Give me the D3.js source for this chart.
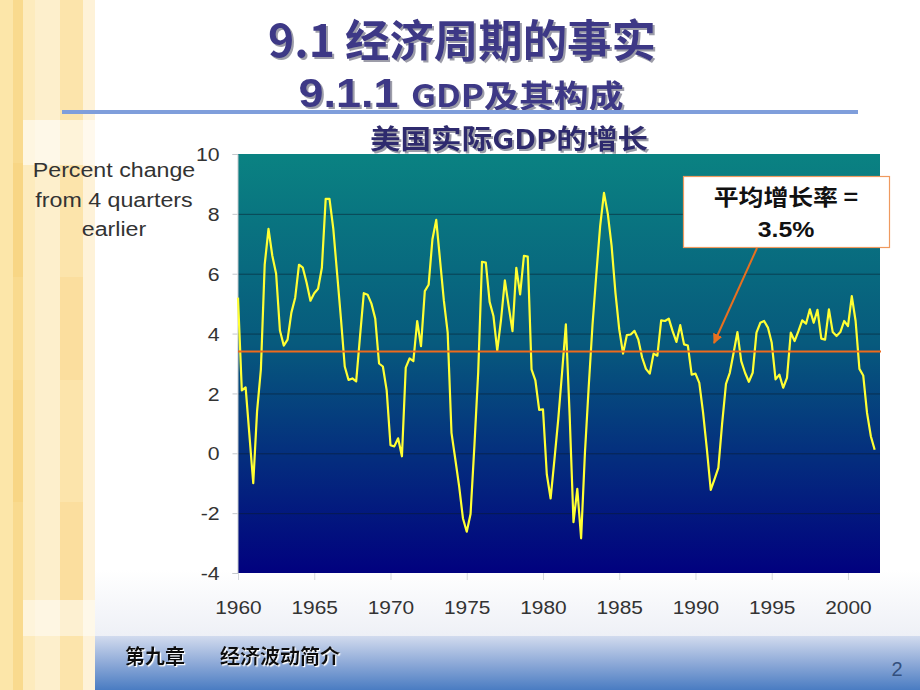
<!DOCTYPE html>
<html><head><meta charset="utf-8">
<script src="https://cdn.jsdelivr.net/npm/d3@7"></script>
<style>html,body{margin:0;padding:0;background:#fff;overflow:hidden}</style>
</head><body>
<svg id="c" width="920" height="690"></svg>
<script>
// ---------------- data ----------------
const startYear = 1960; // first quarter of series: 1960Q1, quarterly to 2001Q4
const gdpGrowth = [
 5.2, 2.1, 2.2, 0.6, -1.0, 1.4, 2.8, 6.3, 7.5, 6.6,
 6.0, 4.1, 3.6, 3.8, 4.7, 5.2, 6.3, 6.2, 5.7, 5.1,
 5.35, 5.5, 6.2, 8.5, 8.5, 7.5, 6.0, 4.5, 2.9, 2.45,
 2.5, 2.4, 3.9, 5.35, 5.3, 5.0, 4.5, 3.0, 2.9, 2.1,
 0.27, 0.23, 0.5, -0.1, 2.86, 3.17, 3.08, 4.42, 3.58, 5.42,
 5.63, 7.15, 7.8, 6.45, 5.1, 4.03, 0.68, -0.2, -1.1, -2.17,
 -2.62, -2.03, 0.23, 2.69, 6.4, 6.37, 5.06, 4.59, 3.43, 4.47,
 5.78, 4.92, 4.08, 6.2, 5.31, 6.6, 6.57, 2.8, 2.44, 1.45,
 1.47, -0.7, -1.51, -0.21, 1.13, 2.69, 4.31, 1.24, -2.3, -1.19,
 -2.84, 0.01, 2.24, 4.31, 6.0, 7.6, 8.7, 8.0, 6.93, 5.37,
 4.14, 3.33, 3.95, 3.97, 4.09, 3.8, 3.2, 2.82, 2.66, 3.33,
 3.26, 4.44, 4.42, 4.5, 4.08, 3.72, 4.28, 3.64, 3.6, 2.63,
 2.66, 2.35, 1.35, 0.12, -1.22, -0.86, -0.49, 1.01, 2.32, 2.69,
 3.36, 4.05, 3.08, 2.69, 2.39, 2.69, 4.03, 4.36, 4.42, 4.2,
 3.69, 2.47, 2.63, 2.19, 2.52, 4.03, 3.75, 4.08, 4.44, 4.33,
 4.81, 4.36, 4.79, 3.83, 3.8, 4.81, 4.05, 3.92, 4.05, 4.42,
 4.25, 5.25, 4.42, 2.82, 2.6, 1.35, 0.57, 0.12
];
const avgGrowth = 3.4;
const yTicks = [-4, -2, 0, 2, 4, 6, 8, 10];
const xTicks = [1960, 1965, 1970, 1975, 1980, 1985, 1990, 1995, 2000];
const yTitleLines = ["Percent change", "from 4 quarters", "earlier"];
const titleLine1 = "9.1 经济周期的事实";
const titleLine2a = "9.1.1 ";
const titleLine2b = "GDP及其构成";
const subTitle = "美国实际GDP的增长";
const noteLines = ["平均增长率 =", "3.5%"];
const footerChapter = "第九章";
const footerTopic = "经济波动简介";
const pageNum = "2";

// ---------------- setup ----------------
const svg = d3.select("#c");
const defs = svg.append("defs");
const SANS = "'Liberation Sans', Arial, sans-serif";
const CJK = "'Noto Sans CJK SC', 'Liberation Sans', sans-serif";

function stxt(parent, x, y, s, o) {
  const t = parent.append("text")
    .attr("transform", `translate(${x},${y}) scale(${o.sx || 1},1)`)
    .attr("text-anchor", o.anchor || "middle")
    .style("font-family", o.family || SANS)
    .style("font-size", (o.size || 16) + "px")
    .style("font-weight", o.weight || "normal")
    .attr("fill", o.fill || "#333");
  if (s !== null) t.text(s);
  return t;
}

// shadow filters
const f1 = defs.append("filter").attr("id", "tshadow").attr("x", "-5%").attr("y", "-20%").attr("width", "115%").attr("height", "150%");
f1.append("feDropShadow").attr("dx", 2).attr("dy", 2).attr("stdDeviation", 0.6).attr("flood-color", "#7d7d8c").attr("flood-opacity", 0.75);
const f2 = defs.append("filter").attr("id", "wshadow").attr("x", "-5%").attr("y", "-20%").attr("width", "115%").attr("height", "150%");
f2.append("feDropShadow").attr("dx", 1.2).attr("dy", 1.2).attr("stdDeviation", 0.3).attr("flood-color", "#ffffff").attr("flood-opacity", 1);

// background decorations
svg.append("rect").attr("width", 920).attr("height", 690).attr("fill", "#fff");
const fadeG = defs.append("linearGradient").attr("id", "fade").attr("x1", 0).attr("y1", 0).attr("x2", 0).attr("y2", 1);
fadeG.append("stop").attr("offset", 0).attr("stop-color", "#ffffff");
fadeG.append("stop").attr("offset", 1).attr("stop-color", "#eef0f6");
svg.append("rect").attr("x", 95).attr("y", 570).attr("width", 825).attr("height", 66).attr("fill", "url(#fade)");

const footG = defs.append("linearGradient").attr("id", "foot").attr("x1", 0).attr("y1", 0).attr("x2", 0).attr("y2", 1);
footG.append("stop").attr("offset", 0).attr("stop-color", "#d2dbee");
footG.append("stop").attr("offset", 0.5).attr("stop-color", "#8eaad8");
footG.append("stop").attr("offset", 1).attr("stop-color", "#4a7cc2");
svg.append("rect").attr("x", 95).attr("y", 636).attr("width", 825).attr("height", 54).attr("fill", "url(#foot)");

// left yellow band
const band = svg.append("g");
[[0, 13, "#fce6a9"], [13, 23, "#f9da8e"], [23, 35, "#fdebbd"], [35, 60, "#fdefcc"], [60, 83, "#fce4ab"], [83, 95, "#fef2d8"]]
  .forEach(c => band.append("rect").attr("x", c[0]).attr("y", 0).attr("width", c[1] - c[0]).attr("height", 690).attr("fill", c[2]));
band.append("rect").attr("x", 23).attr("y", 120).attr("width", 72).attr("height", 45).attr("fill", "#fff").attr("opacity", 0.55);
band.append("rect").attr("x", 23).attr("y", 600).attr("width", 72).attr("height", 36).attr("fill", "#fff").attr("opacity", 0.45);
[[163, 277], [380, 502]].forEach(r => band.append("rect").attr("x", 13).attr("y", r[0]).attr("width", 10).attr("height", r[1] - r[0]).attr("fill", "#f7d37e").attr("opacity", 0.6));
[[277, 380], [502, 600]].forEach(r => band.append("rect").attr("x", 60).attr("y", r[0]).attr("width", 23).attr("height", r[1] - r[0]).attr("fill", "#fbdc98").attr("opacity", 0.7));

// ---------------- titles ----------------
stxt(svg, 462, 57, titleLine1, { size: 44, weight: "bold", family: CJK, fill: "#3c3886" })
  .attr("textLength", 388).attr("lengthAdjust", "spacingAndGlyphs").attr("filter", "url(#tshadow)");
const t2 = stxt(svg, 461, 107, null, { size: 40, weight: "bold", family: CJK, fill: "#3c3886" })
  .attr("textLength", 325).attr("lengthAdjust", "spacingAndGlyphs").attr("filter", "url(#tshadow)");
t2.append("tspan").style("font-family", SANS).text(titleLine2a);
t2.append("tspan").style("font-size", "31px").text(titleLine2b);
svg.append("rect").attr("x", 62).attr("y", 110).attr("width", 796).attr("height", 4).attr("fill", "#7f9edb");
stxt(svg, 509, 149, subTitle, { size: 27, weight: "bold", family: CJK, fill: "#2f2c6e" })
  .attr("textLength", 278).attr("lengthAdjust", "spacingAndGlyphs").attr("filter", "url(#tshadow)");

// ---------------- chart ----------------
const plot = { left: 238, right: 880, top: 154, bottom: 573 };
const x = d3.scaleLinear().domain([1960, 2002.1]).range([plot.left, plot.right]);
const y = d3.scaleLinear().domain([-4, 10]).range([plot.bottom, plot.top]);

const bg = defs.append("linearGradient").attr("id", "plotbg").attr("x1", 0).attr("y1", 0).attr("x2", 0).attr("y2", 1);
bg.append("stop").attr("offset", 0).attr("stop-color", "#0a8282");
bg.append("stop").attr("offset", 0.45).attr("stop-color", "#075a7d");
bg.append("stop").attr("offset", 1).attr("stop-color", "#01017f");
svg.append("rect").attr("x", plot.left).attr("y", plot.top)
  .attr("width", plot.right - plot.left).attr("height", plot.bottom - plot.top).attr("fill", "url(#plotbg)");

// gridlines
svg.append("g").selectAll("line").data(yTicks.filter(v => v > -4 && v < 10)).join("line")
  .attr("x1", plot.left).attr("x2", plot.right)
  .attr("y1", d => y(d) + 0.5).attr("y2", d => y(d) + 0.5)
  .attr("stroke", "#0b1d2e").attr("stroke-opacity", 0.55).attr("stroke-width", 1);

// axes
const plainFmt = d => String(d);
const yAxis = svg.append("g").attr("transform", `translate(${plot.left - 0.5},0)`)
  .call(d3.axisLeft(y).tickValues(yTicks).tickSize(5).tickPadding(11).tickFormat(plainFmt));
yAxis.select(".domain").attr("stroke", "#c4c8cc");
yAxis.selectAll(".tick line").attr("stroke", "#c4c8cc");
yAxis.selectAll(".tick text").attr("fill", "#333").style("font-family", SANS).style("font-size", "19px")
  .attr("dy", "0.35em").attr("transform", "scale(1.12,1)");

const xAxis = svg.append("g").attr("transform", `translate(0,${plot.bottom})`)
  .call(d3.axisBottom(x).tickValues(xTicks).tickSize(7).tickFormat(plainFmt));
xAxis.select(".domain").remove();
xAxis.selectAll(".tick line").attr("stroke", "#d4d8dc");
xAxis.selectAll(".tick text").attr("fill", "#333").style("font-family", SANS).style("font-size", "19px")
  .attr("y", 41).attr("dy", null).attr("transform", "scale(1.1,1)");

// y title
yTitleLines.forEach((s, i) => {
  stxt(svg, 114, 177 + i * 29.5, s, { size: 19.5, fill: "#333", sx: 1.19 });
});

// data line
const line = d3.line().x((d, i) => x(startYear + i / 4)).y(d => y(d));
svg.append("path").datum(gdpGrowth).attr("d", line)
  .attr("fill", "none").attr("stroke", "#ffff33").attr("stroke-width", 2.2).attr("stroke-linejoin", "round");

// average line
svg.append("line").attr("x1", plot.left).attr("x2", plot.right + 1)
  .attr("y1", y(avgGrowth)).attr("y2", y(avgGrowth))
  .attr("stroke", "#ee6a1c").attr("stroke-width", 2);

// annotation box + arrow
const mk = defs.append("marker").attr("id", "arr").attr("viewBox", "0 0 10 10").attr("refX", 9).attr("refY", 5)
  .attr("markerWidth", 5).attr("markerHeight", 5).attr("orient", "auto").attr("markerUnits", "strokeWidth");
mk.append("path").attr("d", "M0,0 L10,5 L0,10 z").attr("fill", "#e8701f");
svg.append("line").attr("x1", 757).attr("y1", 248).attr("x2", 714).attr("y2", 343)
  .attr("stroke", "#e8701f").attr("stroke-width", 2).attr("marker-end", "url(#arr)");
svg.append("rect").attr("x", 683.5).attr("y", 176.5).attr("width", 206).attr("height", 71)
  .attr("fill", "#fff").attr("stroke", "#ef9a5f").attr("stroke-width", 1.2);
stxt(svg, 786, 205, noteLines[0], { size: 22, weight: "bold", family: CJK, fill: "#111", sx: 1.13 });
stxt(svg, 786, 237, noteLines[1], { size: 22, weight: "bold", fill: "#111", sx: 1.13 });

// ---------------- footer ----------------
[[footerChapter, 125], [footerTopic, 220]].forEach(f => {
  stxt(svg, f[1], 664, f[0], { size: 20, weight: "bold", family: CJK, fill: "#111", anchor: "start" })
    .attr("filter", "url(#wshadow)");
});
stxt(svg, 897, 676, pageNum, { size: 20, fill: "#33507e" });
</script>
</body></html>
